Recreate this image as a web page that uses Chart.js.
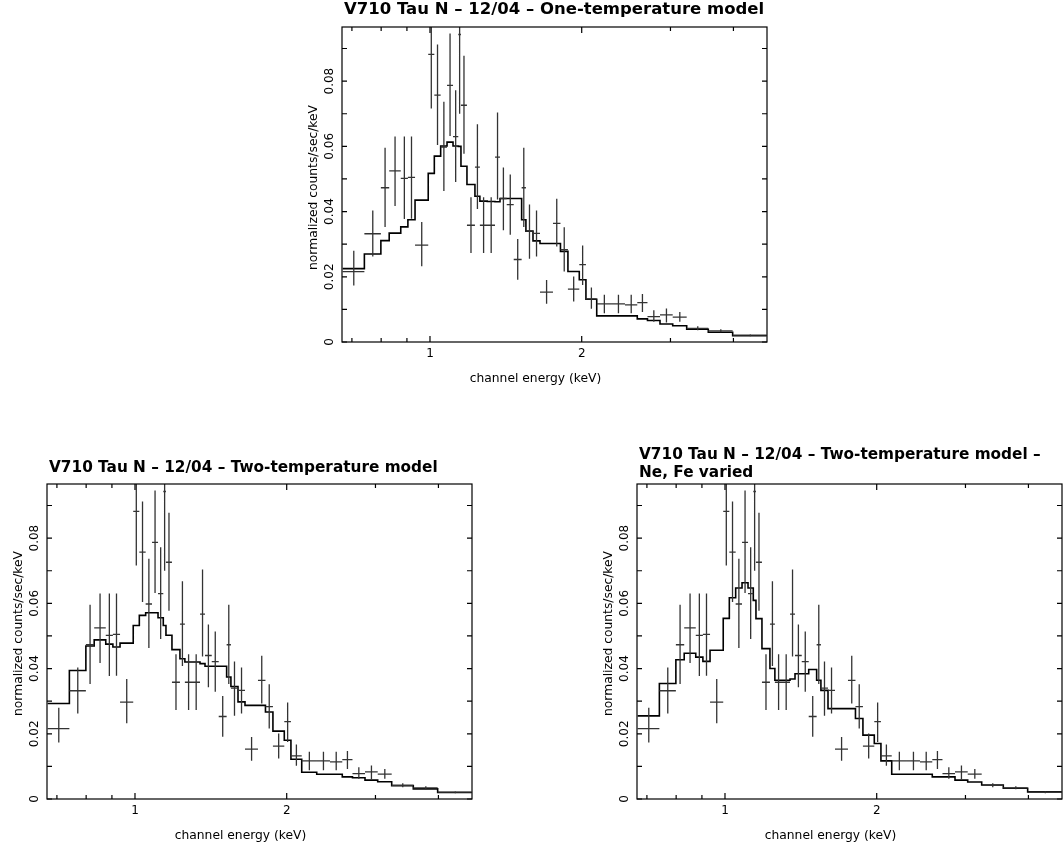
<!DOCTYPE html>
<html>
<head>
<meta charset="utf-8">
<script src="https://cdn.jsdelivr.net/npm/chart.js@4.4.0/dist/chart.umd.min.js"></script>
<style>
body { margin: 0; background: #fff; width: 1063px; height: 846px; position: relative; overflow: hidden; }
canvas { position: absolute; }
</style>
</head>
<body>
<canvas id="oneTemp" width="500" height="400" style="left:280px;top:0px"></canvas>
<canvas id="twoTemp" width="480" height="406" style="left:0px;top:440px"></canvas>
<canvas id="neFe" width="473" height="406" style="left:590px;top:440px"></canvas>
<script>
// channel bin edges (keV), 41 bins
var binEdges = [0.671, 0.741, 0.799, 0.830, 0.875, 0.904, 0.934, 0.992, 1.020, 1.050,
    1.081, 1.111, 1.138, 1.152, 1.184, 1.228, 1.256, 1.299, 1.346, 1.377,
    1.420, 1.466, 1.520, 1.550, 1.601, 1.653, 1.754, 1.815, 1.878, 1.978,
    2.039, 2.142, 2.294, 2.437, 2.578, 2.701, 2.860, 3.031, 3.231, 3.566,
    3.986, 4.656];

// observed spectrum (same data in all three panels)
var counts = [0.0216, 0.0332, 0.0473, 0.0525, 0.0502, 0.0505, 0.0297, 0.0882, 0.0757, 0.0598,
    0.0787, 0.0630, 0.0943, 0.0726, 0.0358, 0.0536, 0.0358, 0.0358, 0.0567, 0.0440,
    0.0421, 0.0253, 0.0473, 0.0340, 0.0333, 0.0153, 0.0364, 0.0283, 0.0162, 0.0237,
    0.0132, 0.0117, 0.0117, 0.0114, 0.0121, 0.0078, 0.0083, 0.0076, 0.0042, 0.0034,
    0.0021];
var errLow = [0.0173, 0.0262, 0.0353, 0.0417, 0.0377, 0.0378, 0.0232, 0.0716, 0.0604, 0.0463,
    0.0632, 0.0491, 0.0700, 0.0577, 0.0273, 0.0408, 0.0273, 0.0273, 0.0437, 0.0343,
    0.0329, 0.0191, 0.0353, 0.0255, 0.0262, 0.0117, 0.0293, 0.0216, 0.0124, 0.0175,
    0.0102, 0.0088, 0.0088, 0.0088, 0.0092, 0.0062, 0.0060, 0.0062, 0.0036, 0.0030,
    0.0018];
var errHigh = [0.0280, 0.0403, 0.0596, 0.0630, 0.0630, 0.0630, 0.0368, 0.1050, 0.0912, 0.0737,
    0.0946, 0.0772, 0.1190, 0.0878, 0.0444, 0.0668, 0.0444, 0.0444, 0.0704, 0.0535,
    0.0514, 0.0316, 0.0596, 0.0422, 0.0403, 0.0190, 0.0439, 0.0352, 0.0201, 0.0296,
    0.0167, 0.0145, 0.0145, 0.0145, 0.0147, 0.0097, 0.0103, 0.0092, 0.0048, 0.0039,
    0.0024];

// folded models
var modelOneT = [0.0225, 0.0270, 0.0311, 0.0334, 0.0353, 0.0375, 0.0435, 0.0517, 0.0570, 0.0601,
    0.0613, 0.0601, 0.0600, 0.0539, 0.0483, 0.0447, 0.0432, 0.0431, 0.0430, 0.0440,
    0.0440, 0.0440, 0.0375, 0.0340, 0.0310, 0.0302, 0.0302, 0.0278, 0.0216, 0.0191,
    0.0131, 0.0080, 0.0080, 0.0080, 0.0071, 0.0066, 0.0055, 0.0050, 0.0039, 0.0030,
    0.0019];
var modelTwoT = [0.0293, 0.0394, 0.0469, 0.0488, 0.0475, 0.0466, 0.0478, 0.0532, 0.0563, 0.0571,
    0.0571, 0.0556, 0.0532, 0.0502, 0.0458, 0.0430, 0.0420, 0.0420, 0.0415, 0.0407,
    0.0407, 0.0407, 0.0374, 0.0345, 0.0298, 0.0287, 0.0287, 0.0267, 0.0208, 0.0180,
    0.0122, 0.0082, 0.0076, 0.0076, 0.0068, 0.0065, 0.0058, 0.0053, 0.0041, 0.0031,
    0.0020];
var modelNeFe = [0.0255, 0.0354, 0.0427, 0.0447, 0.0435, 0.0422, 0.0456, 0.0554, 0.0617, 0.0647,
    0.0663, 0.0647, 0.0609, 0.0553, 0.0461, 0.0400, 0.0364, 0.0364, 0.0368, 0.0384,
    0.0384, 0.0397, 0.0364, 0.0333, 0.0277, 0.0277, 0.0277, 0.0247, 0.0196, 0.0170,
    0.0117, 0.0076, 0.0076, 0.0076, 0.0068, 0.0068, 0.0058, 0.0052, 0.0043, 0.0033,
    0.0022];

var xMajorTicks = [1, 2];
var xMinorTicks = [0.7, 0.8, 0.9, 3, 4];
var yTicks = [0, 0.01, 0.02, 0.03, 0.04, 0.05, 0.06, 0.07, 0.08, 0.09];
var yLabelValues = [0, 0.02, 0.04, 0.06, 0.08];
var yLabelTexts = ['0', '0.02', '0.04', '0.06', '0.08'];

var xMin = 0.669, xMax = 4.663, yMax = 0.0966;
var font = '"DejaVu Sans", sans-serif';

function framePlugin(titleLines, titleTop, titleSize, yTitleShift) {
    return {
        id: 'xspecFrame',
        afterDatasetsDraw: function (chart) {
            var ctx = chart.ctx;
            var a = chart.chartArea;
            var xs = chart.scales.x;
            var ys = chart.scales.y;
            ctx.save();
            ctx.strokeStyle = '#000';
            ctx.lineWidth = 1.2;
            ctx.strokeRect(a.left, a.top, a.right - a.left, a.bottom - a.top);

            // inward ticks on all four sides
            ctx.beginPath();
            xMajorTicks.concat(xMinorTicks).forEach(function (v) {
                var len = xMajorTicks.indexOf(v) >= 0 ? 6 : 4;
                var px = xs.getPixelForValue(v);
                ctx.moveTo(px, a.bottom); ctx.lineTo(px, a.bottom - len);
                ctx.moveTo(px, a.top); ctx.lineTo(px, a.top + len);
            });
            yTicks.forEach(function (v) {
                var py = ys.getPixelForValue(v);
                ctx.moveTo(a.left, py); ctx.lineTo(a.left + 5, py);
                ctx.moveTo(a.right, py); ctx.lineTo(a.right - 5, py);
            });
            ctx.stroke();

            ctx.fillStyle = '#000';
            ctx.font = '12px ' + font;
            ctx.textAlign = 'center';
            ctx.textBaseline = 'middle';
            xMajorTicks.forEach(function (v) {
                ctx.fillText(String(v), xs.getPixelForValue(v), a.bottom + 12);
            });
            ctx.font = '12.3px ' + font;
            ctx.fillText('channel energy (keV)', (a.left + a.right) / 2 - 19, a.bottom + 37);

            ctx.font = '12px ' + font;
            yLabelValues.forEach(function (v, i) {
                ctx.save();
                ctx.translate(a.left - 12, ys.getPixelForValue(v));
                ctx.rotate(-Math.PI / 2);
                ctx.fillText(yLabelTexts[i], 0, 0);
                ctx.restore();
            });
            ctx.save();
            ctx.font = '12.3px ' + font;
            ctx.translate(a.left - 28, (a.top + a.bottom) / 2 + yTitleShift);
            ctx.rotate(-Math.PI / 2);
            ctx.fillText('normalized counts/sec/keV', 0, 0);
            ctx.restore();

            ctx.font = 'bold ' + titleSize + 'px ' + font;
            ctx.textAlign = 'left';
            titleLines.forEach(function (t, i) {
                ctx.fillText(t, a.left + 2, a.top - titleTop + i * 18);
            });
            ctx.restore();
        }
    };
}

function makePanel(id, model, titleLines, titleTop, titleSize, yTitleShift, pad) {
    var errorBars = [];
    for (var i = 0; i < counts.length; i++) {
        var mid = (binEdges[i] + binEdges[i + 1]) / 2;
        errorBars.push({x: binEdges[i], y: counts[i]});
        errorBars.push({x: binEdges[i + 1], y: counts[i]});
        errorBars.push({x: mid, y: null});
        errorBars.push({x: mid, y: errLow[i]});
        errorBars.push({x: mid, y: errHigh[i]});
        errorBars.push({x: mid, y: null});
    }
    var steps = [];
    for (var k = 0; k < model.length; k++) {
        steps.push({x: binEdges[k], y: model[k]});
        steps.push({x: binEdges[k + 1], y: model[k]});
    }

    return new Chart(document.getElementById(id), {
        type: 'line',
        data: {
            datasets: [{
                label: 'data',
                data: errorBars,
                borderColor: '#333',
                borderWidth: 1.3,
                pointRadius: 0,
                spanGaps: false,
                fill: false
            }, {
                label: 'model',
                data: steps,
                borderColor: '#000',
                borderWidth: 1.6,
                pointRadius: 0,
                fill: false
            }]
        },
        options: {
            responsive: false,
            animation: false,
            events: [],
            layout: { padding: pad },
            scales: {
                x: { type: 'logarithmic', min: xMin, max: xMax, bounds: 'data', display: false },
                y: { type: 'linear', min: 0, max: yMax, bounds: 'data', display: false }
            },
            plugins: {
                legend: { display: false },
                tooltip: { enabled: false }
            }
        },
        plugins: [framePlugin(titleLines, titleTop, titleSize, yTitleShift)]
    });
}

makePanel('oneTemp', modelOneT, ['V710 Tau N \u2013 12/04 \u2013 One-temperature model'], 17, 16.5, 3,
    {left: 62, right: 13, top: 27, bottom: 58});
makePanel('twoTemp', modelTwoT, ['V710 Tau N \u2013 12/04 \u2013 Two-temperature model'], 16, 15.3, -8,
    {left: 47, right: 8, top: 44, bottom: 47});
makePanel('neFe', modelNeFe, ['V710 Tau N \u2013 12/04 \u2013 Two-temperature model \u2013', 'Ne, Fe varied'], 29, 15.3, -8,
    {left: 47, right: 1, top: 44, bottom: 47});
</script>
</body>
</html>
